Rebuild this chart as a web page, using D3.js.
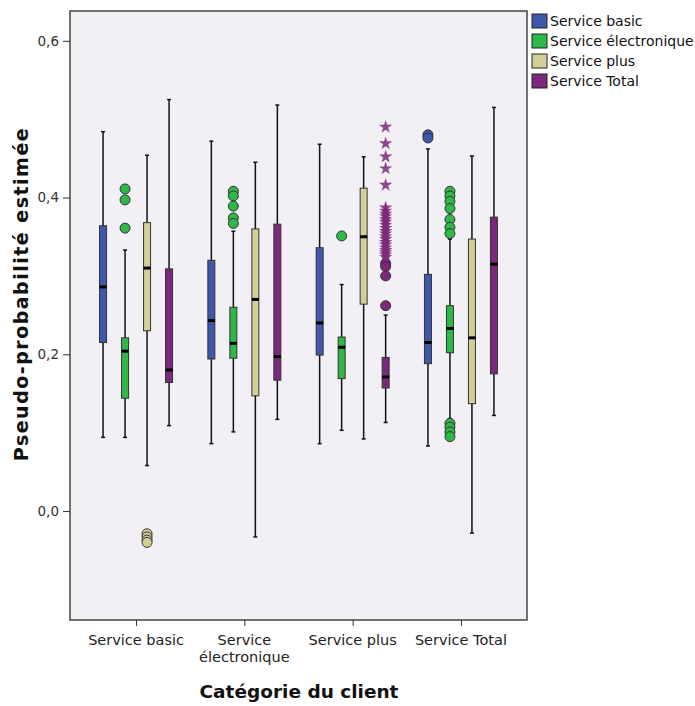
<!DOCTYPE html>
<html><head><meta charset="utf-8">
<script src="https://cdn.jsdelivr.net/npm/d3@7/dist/d3.min.js"></script>
<style>body{margin:0;background:#fff;} text{font-family:"DejaVu Sans",Verdana,sans-serif;}</style>
</head><body>
<svg id="c" width="695" height="706"></svg>
<script>
const categories = ["Service basic", "Service électronique", "Service plus", "Service Total"];
const series = ["Service basic", "Service électronique", "Service plus", "Service Total"];
const colors = ["#3E58AC", "#2EB848", "#D3CE97", "#7C287D"];
const yTicks = [0.0, 0.2, 0.4, 0.6];
// [whisker low, Q1, median, Q3, whisker high] per category
const statsBasic = [[0.094,0.215,0.286,0.364,0.484],[0.086,0.194,0.243,0.320,0.472],[0.086,0.199,0.240,0.336,0.468],[0.083,0.188,0.215,0.302,0.462]];
const statsElec  = [[0.094,0.144,0.204,0.221,0.333],[0.101,0.195,0.214,0.260,0.357],[0.103,0.169,0.209,0.222,0.289],[0.118,0.202,0.233,0.262,0.347]];
const statsPlus  = [[0.058,0.230,0.310,0.368,0.454],[-0.033,0.147,0.270,0.360,0.445],[0.092,0.264,0.350,0.412,0.452],[-0.028,0.137,0.221,0.347,0.453]];
const statsTotal = [[0.109,0.164,0.180,0.309,0.525],[0.117,0.167,0.197,0.366,0.518],[0.113,0.157,0.171,0.196,0.250],[0.122,0.175,0.315,0.375,0.515]];
// outliers (circles) per category
const outBasic = [[],[],[],[0.480,0.476]];
const outElec  = [[0.411,0.397,0.361],[0.408,0.402,0.389,0.374,0.367],[0.351],[0.408,0.402,0.395,0.386,0.372,0.362,0.354,0.112,0.107,0.101,0.095]];
const outPlus  = [[-0.029,-0.033,-0.037,-0.040],[],[],[]];
const outTotal = [[],[],[0.316,0.312,0.300,0.262],[]];
// extremes (stars) per category
const extTotal = [[],[],[0.490,0.469,0.452,0.437,0.416,0.387,0.383,0.379,0.376,0.372,0.369,0.365,0.361,0.357,0.354,0.350,0.347,0.343,0.340,0.336,0.333,0.330,0.327,0.324],[]];

const allStats = [statsBasic, statsElec, statsPlus, statsTotal];
const allOut = [outBasic, outElec, outPlus, outTotal];
const allExt = [[[],[],[],[]],[[],[],[],[]],[[],[],[],[]], extTotal];

const svg = d3.select("#c");
const L = 70, R = 527, T = 11, B = 620;
const x = d3.scalePoint().domain(categories).range([L, R]).padding(0.61);
const xs = d3.scalePoint().domain(series).range([-33, 33]);
const y = d3.scaleLinear().domain([-0.139, 0.638]).range([B, T]);

svg.append("rect").attr("x", L).attr("y", T).attr("width", R - L).attr("height", B - T)
  .attr("fill", "#F2F0F4").attr("stroke", "#444").attr("stroke-width", 1.5);

const yAxis = svg.append("g").attr("transform", `translate(${L},0)`)
  .call(d3.axisLeft(y).tickValues(yTicks).tickSize(7).tickFormat(d => d3.format(".1f")(d).replace(".", ",")));
yAxis.select(".domain").remove();
yAxis.selectAll("line").attr("stroke", "#333");
yAxis.selectAll("text").attr("font-size", 13.5).attr("fill", "#333").attr("dx", -1)
  .style("font-family", "'DejaVu Sans',sans-serif");

const xAxis = svg.append("g").attr("transform", `translate(0,${B})`)
  .call(d3.axisBottom(x).tickSize(6).tickFormat(""));
xAxis.select(".domain").remove();
xAxis.selectAll("line").attr("stroke", "#333");
categories.forEach(c => {
  const parts = c === "Service électronique" ? ["Service", "électronique"] : [c];
  parts.forEach((p, i) => {
    svg.append("text").attr("x", x(c)).attr("y", 645 + i * 17).attr("text-anchor", "middle")
      .attr("font-size", 14.5).attr("fill", "#222").text(p);
  });
});

svg.append("text").attr("x", 299).attr("y", 698).attr("text-anchor", "middle")
  .attr("font-size", 18.5).attr("font-weight", "bold").attr("fill", "#111").text("Catégorie du client");
svg.append("text").attr("transform", "translate(28,294) rotate(-90)").attr("text-anchor", "middle")
  .attr("font-size", 19).attr("font-weight", "bold").attr("letter-spacing", 1.5).attr("fill", "#111").text("Pseudo-probabilité estimée");

const bw = 7;
const star = d3.symbol().type(d3.symbolStar).size(55);
series.forEach((s, si) => {
  categories.forEach((c, ci) => {
    const cx = x(c) + xs(s);
    const [lo, q1, med, q3, hi] = allStats[si][ci];
    const g = svg.append("g");
    g.append("line").attr("x1", cx).attr("x2", cx).attr("y1", y(lo)).attr("y2", y(hi))
      .attr("stroke", "#111").attr("stroke-width", 1.5);
    [lo, hi].forEach(v => g.append("line").attr("x1", cx - 2).attr("x2", cx + 2).attr("y1", y(v)).attr("y2", y(v))
      .attr("stroke", "#111").attr("stroke-width", 1.5));
    g.append("rect").attr("x", cx - bw / 2).attr("y", y(q3)).attr("width", bw).attr("height", y(q1) - y(q3))
      .attr("fill", colors[si]).attr("stroke", "#333").attr("stroke-width", 1);
    g.append("line").attr("x1", cx - bw / 2).attr("x2", cx + bw / 2).attr("y1", y(med)).attr("y2", y(med))
      .attr("stroke", "#000").attr("stroke-width", 3);
    allOut[si][ci].forEach(v => g.append("circle").attr("cx", cx).attr("cy", y(v)).attr("r", 5)
      .attr("fill", colors[si]).attr("stroke", "#333").attr("stroke-width", 1));
    allExt[si][ci].forEach(v => g.append("path").attr("d", star).attr("transform", `translate(${cx},${y(v)})`)
      .attr("fill", colors[si]).attr("opacity", 0.85));
  });
});

const leg = svg.append("g");
series.forEach((s, i) => {
  const ly = 14 + i * 20;
  leg.append("rect").attr("x", 532).attr("y", ly).attr("width", 15).attr("height", 14)
    .attr("fill", colors[i]).attr("stroke", "#222").attr("stroke-width", 1);
  leg.append("text").attr("x", 550).attr("y", ly + 12).attr("font-size", 14).attr("fill", "#111").text(s);
});
</script>
</body></html>
